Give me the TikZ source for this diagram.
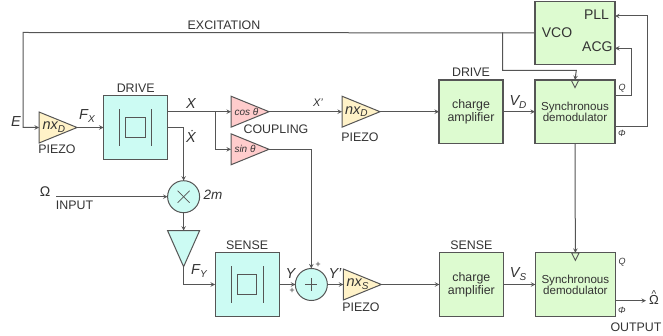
\documentclass[tikz,border=0pt]{standalone}
\usepackage{fontspec}
\setmainfont{Liberation Sans}
\usetikzlibrary{calc,positioning,arrows,shapes.geometric}
\definecolor{wire}{HTML}{555555}
\definecolor{ink}{HTML}{333333}
\definecolor{massfill}{HTML}{CCFBF3}
\definecolor{ampfill}{HTML}{DDFBD0}
\definecolor{couplefill}{HTML}{FFCCCC}
\definecolor{piezofill}{HTML}{FFF2C8}
\tikzstyle{box} = [rectangle, draw=wire, line width=1.1pt, inner sep=0pt, outer sep=0pt, align=center, text=ink]
\tikzstyle{mass} = [box, fill=massfill, minimum width=64.3pt, minimum height=63.3pt]
\tikzstyle{amp} = [box, fill=ampfill, minimum width=64pt, minimum height=63.3pt, font=\fontsize{12.4}{12.6}\selectfont]
\tikzstyle{demod} = [box, fill=ampfill, minimum width=80pt, minimum height=63.3pt, font=\fontsize{11.6}{11.2}\selectfont]
\tikzstyle{wedge} = [isosceles triangle, isosceles triangle stretches, draw=wire, line width=1pt, inner sep=0pt, outer sep=0pt, minimum height=38pt, minimum width=31pt]
\tikzstyle{piezo} = [wedge, fill=piezofill]
\tikzstyle{coupling} = [wedge, fill=couplefill]
\tikzstyle{force} = [wedge, fill=massfill, shape border rotate=-90, minimum height=36pt, minimum width=32pt]
\tikzstyle{clock} = [isosceles triangle, isosceles triangle stretches, draw=wire, line width=.9pt, inner sep=0pt, outer sep=0pt, shape border rotate=-90, minimum height=7.5pt, minimum width=7.5pt]
\tikzstyle{junction} = [circle, draw=wire, line width=1pt, fill=massfill, inner sep=0pt, outer sep=0pt, minimum size=32pt]
\tikzstyle{proof} = [rectangle, draw=wire, line width=1pt, inner sep=0pt, minimum size=19.5pt]
\tikzstyle{caption} = [inner sep=0pt, text=ink, font=\fontsize{12.4}{14}\selectfont]
\tikzstyle{signal} = [inner sep=0pt, text=ink, font=\fontsize{14.5}{16}\selectfont\itshape]
\tikzstyle{gain} = [inner sep=0pt, text=ink, font=\fontsize{10}{12}\selectfont\itshape]
\tikzstyle{tiny} = [inner sep=0pt, text=ink, font=\fontsize{9}{10}\selectfont\itshape]
\tikzstyle{arrow} = [->,>=stealth]
\begin{document}
\begin{tikzpicture}
		[x=1pt, y=1pt, draw=wire, line width=1pt]
		\useasboundingbox (0,0) rectangle (663,-336);
		% drive row
		\node[mass] (drive) at (135.7,-127.5) {};
		\node[piezo, left=26.5pt of drive] (piezoE) {};
		\node[coupling, anchor=west] (cosine) at (231,-111.7) {};
		\node[coupling, anchor=west] (sine) at (231,-149.3) {};
		\node[piezo, right=73pt of cosine] (piezoX) {};
		\node[amp, right=59pt of piezoX] (ampD) {charge\\amplifier};
		\node[demod, right=32pt of ampD] (demodD) {Synchronous\\demodulator};
		\node[box, fill=ampfill, minimum width=80pt, minimum height=63.3pt, above=15.5pt of demodD] (vco) {};
		\node[clock, below=0pt of demodD.north] (clockD) {};
		% input and sense row
		\node[junction] (mult) at (183.6,-196.7) {};
		\node[force, anchor=north] (forceY) at (183.6,-230.7) {};
		\node[mass] (sense) at (247.2,-284.5) {};
		\node[junction, right=16pt of sense] (sum) {};
		\node[piezo, right=16pt of sum] (piezoS) {};
		\node[amp, right=58pt of piezoS] (ampS) {charge\\amplifier};
		\node[demod, right=32pt of ampS] (demodS) {Synchronous\\demodulator};
		\node[clock, below=0pt of demodS.north] (clockS) {};
		% free ends and corners
		\coordinate (excit) at (23,-32.5);
		\coordinate (tapV) at (502.7,-32.5);
		\coordinate (tapC) at (576.3,-70.3);
		\coordinate (tapX) at (215,-111.7);
		\coordinate (start) at (56,-196.7);
		\coordinate (bendY) at (183.6,-284.5);
		\coordinate (outQ) at (615,-96);
		\coordinate (turnQ) at (631.7,-48.3);
		\coordinate (outP) at (615,-126.7);
		\coordinate (turnP) at (647,-16);
		\coordinate (outS) at (615,-300.7);
		\coordinate (endS) at (646,-300.7);
		
		\draw[arrow] (vco.west) -- (excit) |- (piezoE.west);
		\draw[arrow] (tapV) |- (tapC) -- (demodD.north);
		\draw[arrow] (piezoE.east) -- (drive.west);
		\draw[arrow] (drive.east |- tapX) -- (cosine.west);
		\draw[arrow] (tapX) |- (sine.west);
		\draw[arrow] (drive.east) -| (mult.north);
		\draw[arrow] (cosine.east) -- (piezoX.west);
		\draw[arrow] (piezoX.east) -- (ampD.west);
		\draw[arrow] (ampD.east) -- (demodD.west);
		\draw[arrow] (outQ) -| (turnQ) -- (vco.east |- turnQ);
		\draw[arrow] (outP) -| (turnP) -- (vco.east |- turnP);
		\draw[arrow] (start) -- (mult.west);
		\draw[arrow] (mult.south) -- (forceY.north);
		\draw[arrow] (forceY.south) -- (bendY) -- (sense.west);
		\draw[arrow] (sense.east) -- (sum.west);
		\draw[arrow] (sine.east) -| (sum.north);
		\draw[arrow] (sum.east) -- (piezoS.west);
		\draw[arrow] (piezoS.east) -- (ampS.west);
		\draw[arrow] (ampS.east) -- (demodS.west);
		\draw[arrow] (demodD.south) -- (demodS.north);
		\draw[arrow] (outS) -- (endS);
		
		% proof mass inside the two resonators
		\foreach \resonator in {drive,sense}{
			\node[proof] (proof\resonator) at (\resonator) {};
			\draw ($(\resonator)+(-16.2,18)$) -- ++(0,-36.5);
			\draw ($(\resonator)+(16.2,18)$) -- ++(0,-36.5);
		}
		\draw[line width=.7pt] ($(mult)+(-6,6)$) -- ($(mult)+(6,-6)$);
		\draw[line width=.7pt] ($(mult)+(-6,-6)$) -- ($(mult)+(6,6)$);
		\draw[line width=.7pt] ($(sum)+(-6,0)$) -- ($(sum)+(6,0)$);
		\draw[line width=.7pt] ($(sum)+(0,-6)$) -- ($(sum)+(0,6)$);
		
		% labels
		\node[caption] (excitationT) at (224,-25) {EXCITATION};
		\node[caption, above=3pt of drive] (driveT) {DRIVE};
		\node[caption, above=3pt of sense] (senseT) {SENSE};
		\node[caption, above=3pt of ampD] (ampDT) {DRIVE};
		\node[caption, above=3pt of ampS] (ampST) {SENSE};
		\node[caption] (piezoET) at (57,-149) {PIEZO};
		\node[caption] (piezoXT) at (360,-137) {PIEZO};
		\node[caption] (piezoST) at (361,-307) {PIEZO};
		\node[caption] (couplingT) at (276,-129) {COUPLING};
		\node[caption] (inputT) at (74.5,-205) {INPUT};
		\node[caption] (outputT) at (636,-327) {OUTPUT};
		\node[signal] (eT) at (16,-122) {E};
		\node[signal] (fxT) at (87,-116) {F\raisebox{-2.5pt}{\fontsize{10}{10}\selectfont X}};
		\node[signal] (xT) at (191,-104) {X};
		\node[signal, anchor=base] (xdotT) at (191,-143) {Ẋ};
		\node[signal, font=\fontsize{11}{12}\selectfont\itshape] (xprimeT) at (318,-103) {X'};
		\node[signal, font=\fontsize{14}{16}\selectfont] (omegaT) at (45,-192) {\upshape Ω};
		\node[signal, font=\fontsize{13.5}{16}\selectfont\itshape] (twomT) at (213,-195) {2m};
		\node[signal] (fyT) at (199,-271) {F\raisebox{-2.5pt}{\fontsize{10}{10}\selectfont Y}};
		\node[signal] (yT) at (290.5,-274) {Y};
		\node[signal] (yprimeT) at (335,-274) {Y'};
		\node[signal] (vdT) at (518,-102) {V\raisebox{-2.5pt}{\fontsize{10}{10}\selectfont D}};
		\node[signal] (vsT) at (518,-274) {V\raisebox{-2.5pt}{\fontsize{10}{10}\selectfont S}};
		\node[signal, anchor=west] (nxeT) at (42,-127) {nx\raisebox{-2.5pt}{\fontsize{10}{10}\selectfont D}};
		\node[signal, anchor=west] (nxxT) at (344.5,-111.7) {nx\raisebox{-2.5pt}{\fontsize{10}{10}\selectfont D}};
		\node[signal, anchor=west] (nxsT) at (346,-284) {nx\raisebox{-2.5pt}{\fontsize{10}{10}\selectfont S}};
		\node[gain, anchor=west] (cosT) at (234,-111.7) {cos θ};
		\node[gain, anchor=west] (sinT) at (234,-149.3) {sin θ};
		\node[tiny] (plusA) at (292,-291) {+};
		\node[tiny] (plusB) at (318,-265) {+};
		\node[tiny] (qdT) at (622,-88) {Q};
		\node[tiny] (pdT) at (622,-133) {Φ};
		\node[tiny] (qsT) at (622,-262) {Q};
		\node[tiny] (psT) at (622,-310) {Φ};
		\node[text=ink, inner sep=0pt, font=\fontsize{14}{16}\selectfont] (vcoT) at (557,-33) {VCO};
		\node[text=ink, inner sep=0pt, font=\fontsize{14}{16}\selectfont, anchor=east] (pllT) at (609.5,-15) {PLL};
		\node[text=ink, inner sep=0pt, font=\fontsize{14}{16}\selectfont, anchor=east] (acgT) at (613,-47) {ACG};
		\node[text=ink, inner sep=0pt, font=\fontsize{13}{16}\selectfont, anchor=base] (omegaO) at (654,-304) {\makebox[0pt][l]{\hspace{2.5pt}\raisebox{6.5pt}{\fontsize{10}{10}\selectfont\textasciicircum}}Ω};
		\end{tikzpicture}
\end{document}
